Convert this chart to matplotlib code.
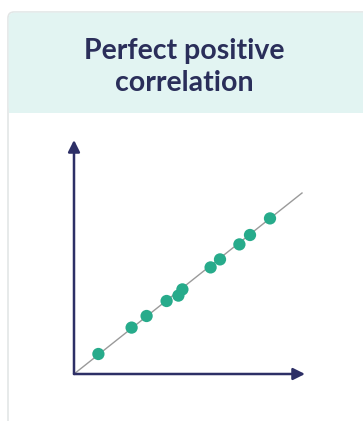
import matplotlib
matplotlib.use('Agg')
import matplotlib.pyplot as plt
from matplotlib.patches import FancyBboxPatch, Rectangle

# Chart content
title = "Perfect positive\ncorrelation"
x_vals = [12.2, 28.8, 36.3, 46.3, 52.2, 54.2, 68.3, 73.0, 82.7, 88.0, 98.0]
y_vals = [10.0, 23.2, 29.0, 36.5, 39.2, 42.3, 53.3, 57.3, 64.8, 69.5, 77.8]
trend_x = [0, 114]
trend_y = [0, 90.5]

W, H = 363, 421
fig = plt.figure(figsize=(W / 100, H / 100), dpi=100)
fig.patch.set_facecolor('white')

# Card background and header band (figure pixel coords)
bg = fig.add_axes([0, 0, 1, 1])
bg.set_xlim(0, W)
bg.set_ylim(H, 0)
bg.axis('off')
bg.add_patch(FancyBboxPatch((8, 12), 400, 500, boxstyle='round,pad=0,rounding_size=6',
                            facecolor='white', edgecolor='#e3e6e6', linewidth=1.2))
bg.add_patch(FancyBboxPatch((8.6, 12.6), 400, 100, boxstyle='round,pad=0,rounding_size=6',
                            facecolor='#e2f4f2', edgecolor='none'))
bg.add_patch(Rectangle((8.6, 60), 400, 53, facecolor='#e2f4f2', edgecolor='none'))
bg.text(184, 67, title, ha='center', va='center', fontsize=20.5, fontweight='bold',
        color='#2a2e5a', linespacing=1.3, family='Lato')

# Plot area
ox, oy = 74, 374
ax = fig.add_axes([ox / W, (H - oy) / H, 231 / W, 234 / H])
ax.set_xlim(0, 115.5)
ax.set_ylim(0, 117)
ax.axis('off')

navy = '#2d2f66'
ax.plot(trend_x, trend_y, color='#9a9a9a', linewidth=1.0, zorder=2)
ax.scatter(x_vals, y_vals, s=78, color='#27ab8b', edgecolors='none', zorder=3)

# Axes with arrow heads
ax.annotate('', xy=(1.0, 0), xytext=(0, 0), xycoords='axes fraction',
            arrowprops=dict(arrowstyle='-|>,head_length=0.7,head_width=0.35',
                            color=navy, linewidth=1.8, shrinkA=0, shrinkB=0),
            annotation_clip=False)
ax.annotate('', xy=(0, 1.0), xytext=(0, 0), xycoords='axes fraction',
            arrowprops=dict(arrowstyle='-|>,head_length=0.7,head_width=0.35',
                            color=navy, linewidth=1.8, shrinkA=0, shrinkB=0),
            annotation_clip=False)

fig.savefig('out.png', dpi=100)
